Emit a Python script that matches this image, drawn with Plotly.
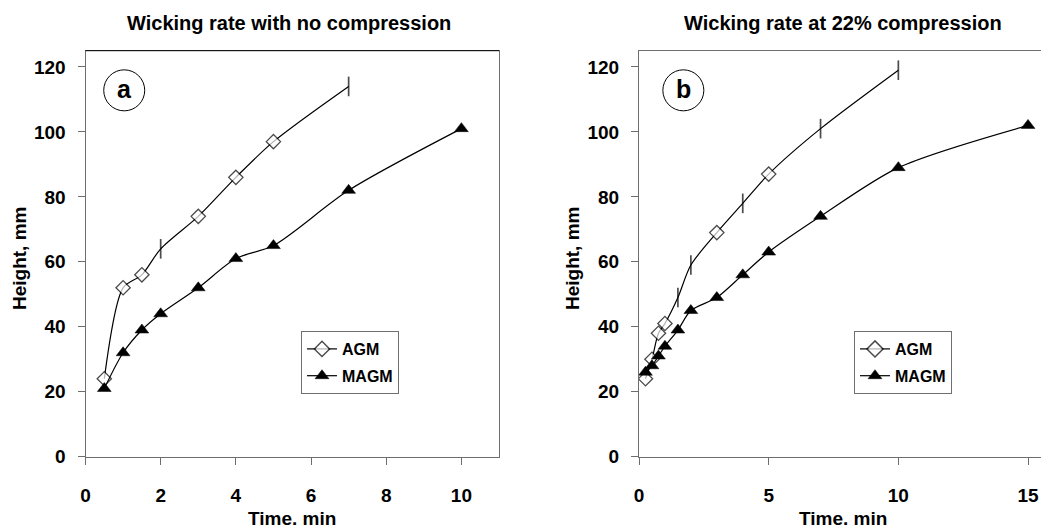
import plotly.graph_objects as go

# ---- data ----
left_agm_x = [0.5, 1, 1.5, 2, 3, 4, 5, 7]
left_agm_y = [24, 52, 56, 64, 74, 86, 97, 114]
left_agm_sym = ["diamond", "diamond", "diamond", "line-ns", "diamond", "diamond", "diamond", "line-ns"]
left_magm_x = [0.5, 1, 1.5, 2, 3, 4, 5, 7, 10]
left_magm_y = [21, 32, 39, 44, 52, 61, 65, 82, 101]

right_agm_x = [0.25, 0.5, 0.75, 1, 1.5, 2, 3, 4, 5, 7, 10]
right_agm_y = [24, 30, 38, 41, 49, 59, 69, 78, 87, 101, 119]
right_agm_sym = ["diamond", "diamond", "diamond", "diamond", "line-ns", "line-ns",
                 "diamond", "line-ns", "diamond", "line-ns", "line-ns"]
right_magm_x = [0.25, 0.5, 0.75, 1, 1.5, 2, 3, 4, 5, 7, 10, 15]
right_magm_y = [26, 28, 31, 34, 39, 45, 49, 56, 63, 74, 89, 102]

titles = ["Wicking rate with no compression", "Wicking rate at 22% compression"]
panel_labels = ["a", "b"]
x_title = "Time. min"
y_title = "Height, mm"

FONT = "Liberation Sans, Arial, sans-serif"
W, H = 1041, 530

def sizes(symbols):
    return [14 if s == "line-ns" else 11 for s in symbols]

def widths(symbols):
    return [1.7 if s == "line-ns" else 1.3 for s in symbols]

fig = go.Figure()

def agm_trace(x, y, sym, xa, ya, legend):
    return go.Scatter(
        x=x, y=y, mode="lines+markers", name="AGM", xaxis=xa, yaxis=ya, legend=legend,
        legendgroup=legend + "agm",
        line=dict(color="black", width=1.2, shape="spline", smoothing=0.8),
        marker=dict(symbol=sym, size=sizes(sym), color="white",
                    line=dict(color="black", width=widths(sym))),
    )

def magm_trace(x, y, xa, ya, legend):
    return go.Scatter(
        x=x, y=y, mode="lines+markers", name="MAGM", xaxis=xa, yaxis=ya, legend=legend,
        legendgroup=legend + "magm",
        line=dict(color="black", width=1.2, shape="spline", smoothing=0.8),
        marker=dict(symbol="triangle-up", size=12, color="black",
                    line=dict(color="black", width=0.5)),
    )

fig.add_trace(agm_trace(left_agm_x, left_agm_y, left_agm_sym, "x", "y", "legend"))
fig.add_trace(magm_trace(left_magm_x, left_magm_y, "x", "y", "legend"))
fig.add_trace(agm_trace(right_agm_x, right_agm_y, right_agm_sym, "x2", "y2", "legend2"))
fig.add_trace(magm_trace(right_magm_x, right_magm_y, "x2", "y2", "legend2"))

AX = "#6e6e6e"
ydom = [1 - 456.7 / H, 1 - 50.7 / H]
xdom1 = [85.5 / W, 499 / W]
xdom2 = [639 / W, 1.0]

common_x = dict(showline=True, linecolor=AX, linewidth=1, mirror=True, ticks="outside",
                ticklen=7, tickcolor=AX, tickwidth=1, showgrid=False, zeroline=False,
                tickfont=dict(family=FONT, size=19, color="black", weight="bold"),
                ticklabelstandoff=14, automargin=False)
common_y = dict(showline=True, linecolor=AX, linewidth=1, mirror=True, ticks="outside",
                ticklen=7, tickcolor=AX, tickwidth=1, showgrid=False, zeroline=False,
                tickfont=dict(family=FONT, size=19, color="black", weight="bold"),
                range=[0, 125], tickvals=[0, 20, 40, 60, 80, 100, 120],
                ticklabelstandoff=8, domain=ydom, automargin=False)

legend_common = dict(bgcolor="white", bordercolor="#707070", borderwidth=1,
                     font=dict(family=FONT, size=16, color="black", weight="bold"),
                     xanchor="left", yanchor="top", tracegroupgap=3,
                     traceorder="grouped", itemwidth=30)

fig.update_layout(
    width=W, height=H, margin=dict(l=0, r=0, t=0, b=0, autoexpand=False),
    paper_bgcolor="white", plot_bgcolor="white",
    xaxis=dict(common_x, domain=xdom1, range=[0, 11], tickvals=[0, 2, 4, 6, 8, 10], anchor="y"),
    yaxis=dict(common_y, anchor="x"),
    xaxis2=dict(common_x, domain=xdom2, range=[0, 15.5], tickvals=[0, 5, 10, 15], anchor="y2"),
    yaxis2=dict(common_y, anchor="x2"),
    legend=dict(legend_common, x=301 / W, y=1 - 331 / H),
    legend2=dict(legend_common, x=854 / W, y=1 - 331 / H),
    showlegend=True,
)

# black top border on left panel
fig.add_shape(type="line", xref="x domain", yref="y domain", x0=0, x1=1, y0=1, y1=1,
              line=dict(color="black", width=1))

# panel label circles
for xa, ya, cx, label in [("x", "y", 1.03, panel_labels[0]), ("x2", "y2", 1.71, panel_labels[1])]:
    fig.add_shape(type="circle", xref=xa, yref=ya, xsizemode="pixel", ysizemode="pixel",
                  xanchor=cx, yanchor=112.8, x0=-20.5, x1=20.5, y0=-20.5, y1=20.5,
                  line=dict(color="black", width=1), fillcolor="rgba(0,0,0,0)")
    fig.add_annotation(x=cx, y=112.8, xref=xa, yref=ya, text=label, showarrow=False,
                       font=dict(family=FONT, size=25, color="black", weight="bold"),
                       xanchor="center", yanchor="middle", yshift=1)

# titles and axis titles
for cx, t, ytx in [(289 / W, titles[0], 19 / W), (842.5 / W, titles[1], 572 / W)]:
    fig.add_annotation(x=cx, y=1 - 23 / H, xref="paper", yref="paper", text=t, showarrow=False,
                       font=dict(family=FONT, size=20, color="black", weight="bold"),
                       xanchor="center", yanchor="middle")
    fig.add_annotation(x=cx + (3 / W if cx < 0.5 else 0), y=1 - 518 / H, xref="paper", yref="paper",
                       text=x_title, showarrow=False,
                       font=dict(family=FONT, size=19, color="black", weight="bold"),
                       xanchor="center", yanchor="middle")
    fig.add_annotation(x=ytx, y=1 - 259 / H, xref="paper", yref="paper", text=y_title,
                       showarrow=False, textangle=-90,
                       font=dict(family=FONT, size=19, color="black", weight="bold"),
                       xanchor="center", yanchor="middle")

fig.write_html("out.html", config={"displayModeBar": False},
               post_script="document.body.style.margin='0';document.body.style.padding='0';"
                           "document.body.style.overflow='hidden';")
